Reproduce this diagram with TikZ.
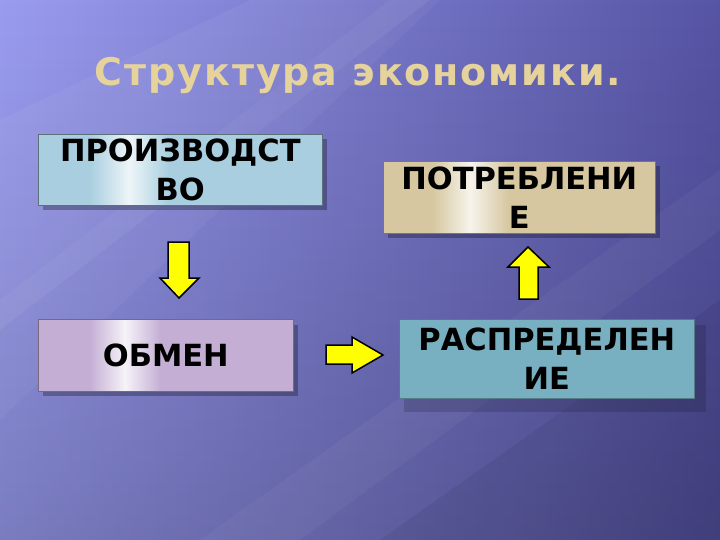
\documentclass[tikz,border=0pt]{standalone}
\usepackage{fontspec}
\setmainfont{DejaVu Sans}
\usetikzlibrary{fadings}
\definecolor{bgtl}{HTML}{9A9CF0}
\definecolor{bgtr}{HTML}{5654A4}
\definecolor{titlecol}{HTML}{E6D39C}
\definecolor{cblue}{HTML}{A8CEDF}
\definecolor{cbeige}{HTML}{D6C7A0}
\definecolor{clilac}{HTML}{C4AED4}
\definecolor{cteal}{HTML}{78B0C2}
\definecolor{arrowyel}{HTML}{FFFF00}
\pgfdeclarehorizontalshading{shblue}{100bp}{color(0bp)=(cblue); color(34bp)=(cblue); color(41bp)=(white!80!cblue); color(48bp)=(cblue); color(100bp)=(cblue)}
\pgfdeclarehorizontalshading{shbeige}{100bp}{color(0bp)=(cbeige); color(34bp)=(cbeige); color(41bp)=(white!80!cbeige); color(48bp)=(cbeige); color(100bp)=(cbeige)}
\pgfdeclarehorizontalshading{shlilac}{100bp}{color(0bp)=(clilac); color(35bp)=(clilac); color(42bp)=(white!85!clilac); color(49bp)=(clilac); color(100bp)=(clilac)}
\tikzset{
  box/.style={draw=black!45!cblue, line width=0.6pt, minimum width=#1, minimum height=72pt,
    inner sep=0pt, align=center, anchor=north west,
    font=\bfseries\fontsize{30.5}{39}\selectfont},
  boxshadow/.style={fill=black, fill opacity=0.28},
  yarrow/.style={fill=arrowyel, draw=black, line width=1.5pt, line join=miter}
}
\begin{document}
\begin{tikzpicture}[x=1pt,y=-1pt]
\useasboundingbox (0,0) rectangle (720,540);
% background
\shade[left color=bgtl, right color=bgtr] (0,0) rectangle (720,540);
\fill[black, path fading=north, fill opacity=0.2] (0,0) rectangle (720,540);
\fill[white, opacity=0.05] (0,120) -- (250,0) -- (430,0) -- (0,330) -- cycle;
\fill[white, opacity=0.04] (0,300) -- (390,0) -- (440,0) -- (0,420) -- cycle;
\fill[white, opacity=0.04] (200,540) -- (720,170) -- (720,230) -- (300,540) -- cycle;
\fill[black, opacity=0.06] (380,540) -- (720,300) -- (720,540) -- cycle;
% title
\node[text=titlecol, font=\bfseries\fontsize{38}{40}\selectfont\addfontfeature{LetterSpace=5}] (title) at (358,76) {Структура экономики.};
% shadows
\fill[boxshadow] (43,139) rectangle (327,210);
\fill[boxshadow] (388,166) rectangle (660,238);
\fill[boxshadow] (43,325) rectangle (298,396);
\fill[black, fill opacity=0.15] (404,325) rectangle (706,412);
% boxes
\node[box=284pt, shading=shblue, minimum height=71pt] (prod) at (38,134) {ПРОИЗВОДСТ\\ВО};
\node[box=272pt, shading=shbeige, draw=black!40!cbeige] (potr) at (383,161) {ПОТРЕБЛЕНИ\\Е};
\node[box=255pt, shading=shlilac, draw=black!40!clilac, minimum height=72pt] (obm) at (38,319) {ОБМЕН};
\node[box=295pt, fill=cteal, draw=black!30!cteal, minimum height=79pt] (rasp) at (399,319) {РАСПРЕДЕЛЕН\\ИЕ};
% arrows
\draw[yarrow] (168,242) -- (189,242) -- (189,278) -- (199,278) -- (179,298) -- (160,278) -- (168,278) -- cycle;
\draw[yarrow] (326,345) -- (352,345) -- (352,337) -- (383,355) -- (352,373) -- (352,364) -- (326,364) -- cycle;
\draw[yarrow] (519,299) -- (519,267) -- (508,267) -- (528,247) -- (549,267) -- (538,267) -- (538,299) -- cycle;
\end{tikzpicture}
\end{document}
